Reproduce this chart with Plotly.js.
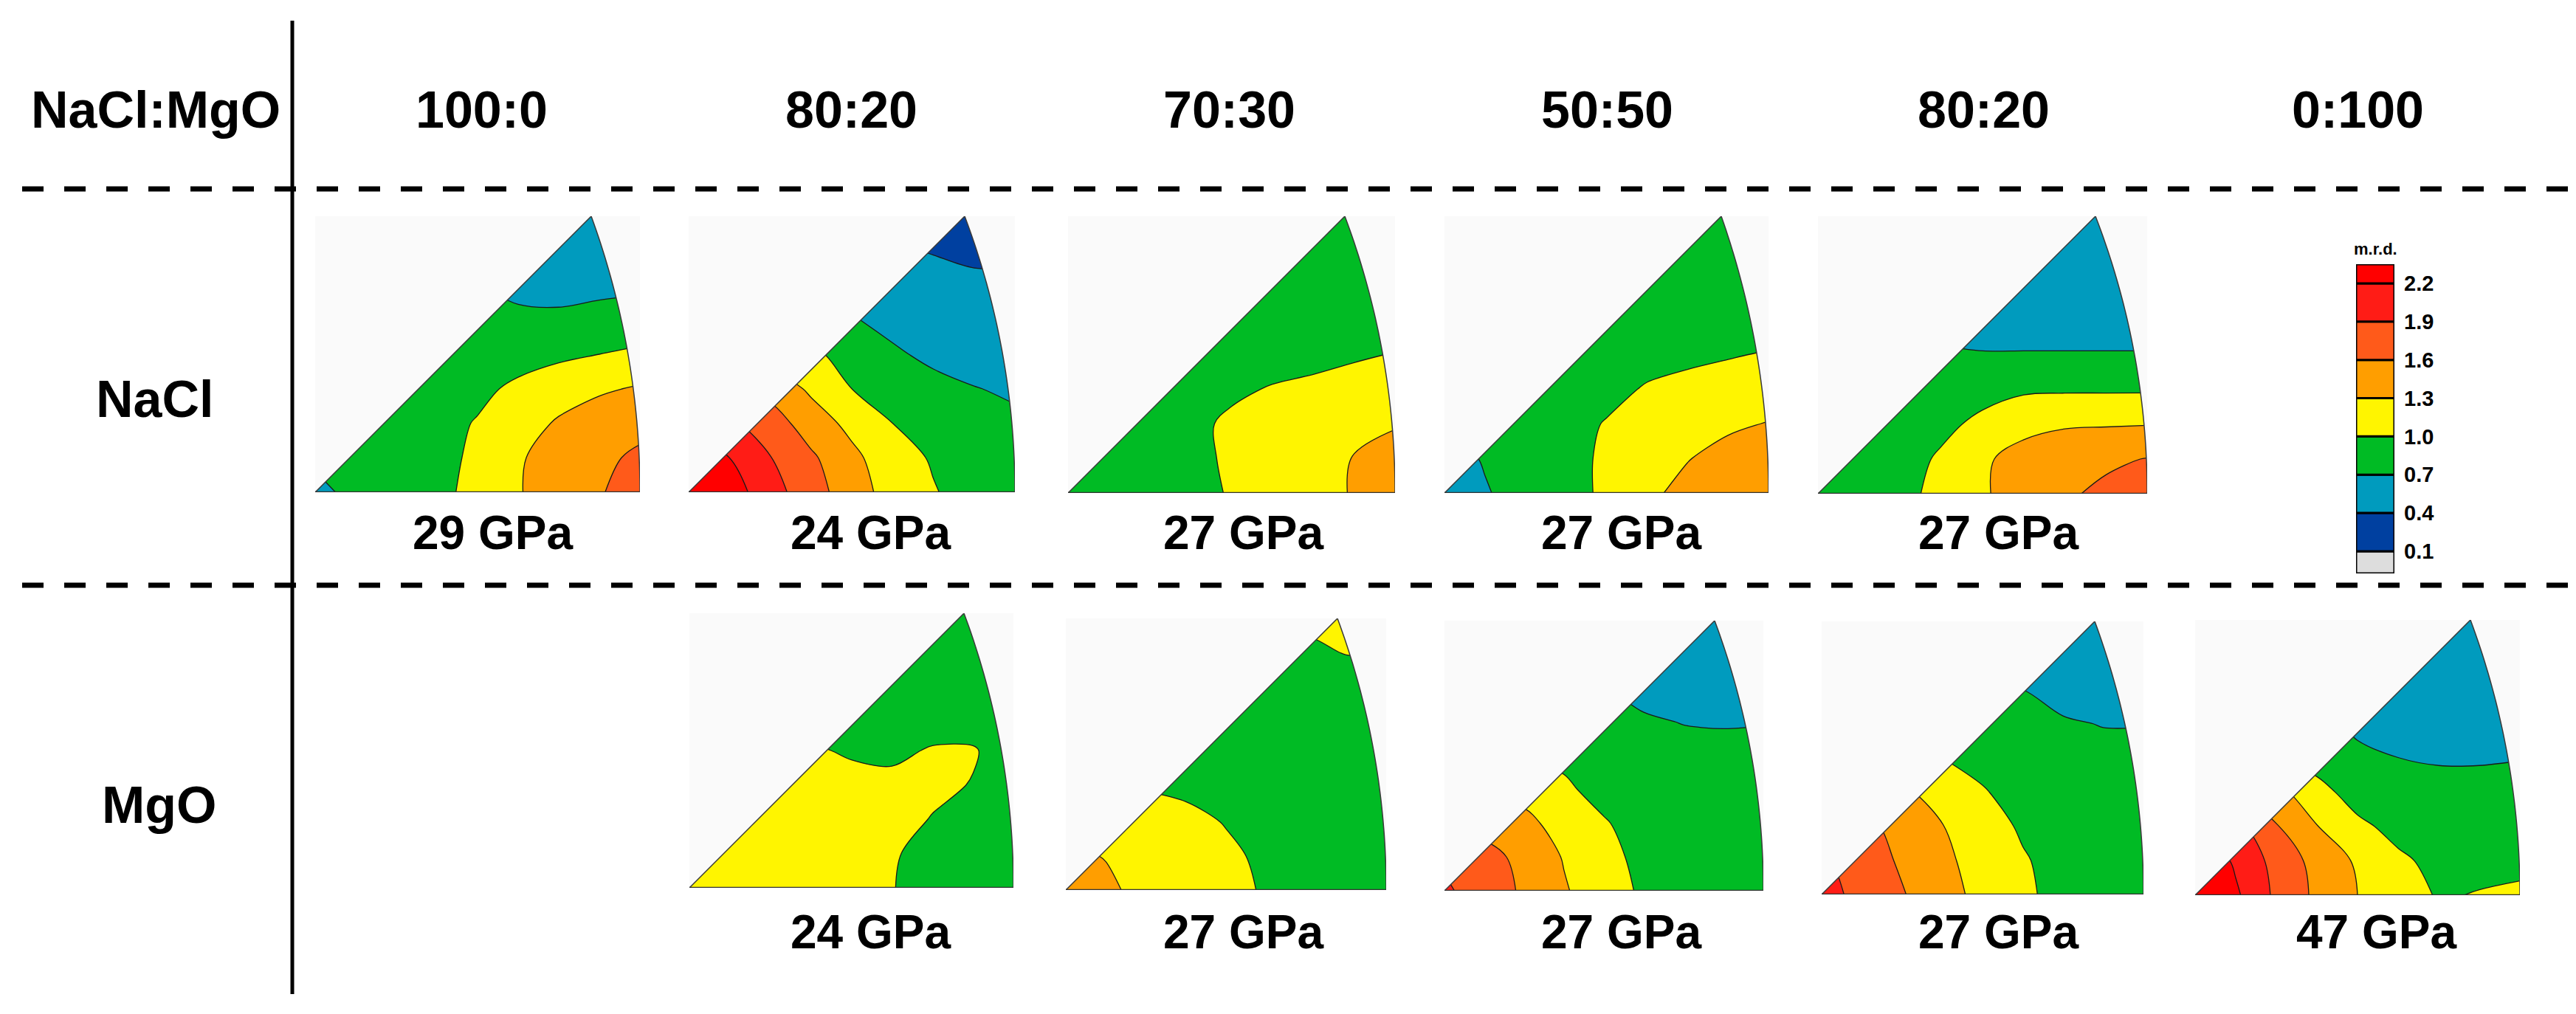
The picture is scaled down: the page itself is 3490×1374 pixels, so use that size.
<!DOCTYPE html>
<html>
<head>
<meta charset="utf-8">
<script src="https://cdn.plot.ly/plotly-3.0.1.min.js"></script>
<style>
html,body{margin:0;padding:0;background:#ffffff;}
#chart{width:3490px;height:1374px;}
</style>
</head>
<body>
<div id="chart"></div>
<script>
// ---------------- DATA ----------------
const columnLabels = ['100:0', '80:20', '70:30', '50:50', '80:20', '0:100'];
const cornerLabel = 'NaCl:MgO';
const rowLabels = ['NaCl', 'MgO'];
const pressureNaCl = ['29 GPa', '24 GPa', '27 GPa', '27 GPa', '27 GPa'];
const pressureMgO = ['24 GPa', '27 GPa', '27 GPa', '27 GPa', '47 GPa'];
const unitLabel = 'm.r.d.';

// contour levels (m.r.d.) and band colours (below first level ... above last level)
const levels = [0.1, 0.4, 0.7, 1.0, 1.3, 1.6, 1.9, 2.2];
const levelLabels = ['0.1', '0.4', '0.7', '1.0', '1.3', '1.6', '1.9', '2.2'];
const bandColors = ['#DDDDDD', '#0040A0', '#009BBE', '#00BB24', '#FFF500', '#FF9E00', '#FF5A1A', '#FF1C16', '#FF0000'];

// sample positions inside each inverse-pole-figure box (fraction of width / height)
const gridU = [0, 0.125, 0.25, 0.375, 0.5, 0.625, 0.75, 0.875, 1];
const gridV = [0, 0.125, 0.25, 0.375, 0.5, 0.625, 0.75, 0.875, 1];

// m.r.d., rows = gridV (bottom -> top), cols = gridU
const nacl_100_0 = [
  [0.62, 0.78, 0.85, 0.93, 1.08, 1.28, 1.45, 1.58, 1.72],
  [0.75, 0.80, 0.85, 0.92, 1.05, 1.27, 1.42, 1.54, 1.65],
  [0.78, 0.80, 0.83, 0.90, 1.02, 1.18, 1.33, 1.45, 1.52],
  [0.78, 0.78, 0.80, 0.85, 0.93, 1.06, 1.18, 1.26, 1.33],
  [0.77, 0.77, 0.78, 0.80, 0.83, 0.88, 0.94, 1.00, 1.06],
  [0.76, 0.76, 0.77, 0.77, 0.76, 0.74, 0.74, 0.78, 0.80],
  [0.72, 0.72, 0.72, 0.72, 0.70, 0.65, 0.63, 0.64, 0.66],
  [0.60, 0.60, 0.60, 0.60, 0.58, 0.56, 0.55, 0.55, 0.56],
  [0.50, 0.50, 0.50, 0.50, 0.50, 0.50, 0.50, 0.50, 0.50]
];
const nacl_80_20 = [
  [2.60, 2.35, 2.02, 1.73, 1.44, 1.18, 1.02, 0.88, 0.82],
  [2.50, 2.20, 1.91, 1.65, 1.37, 1.13, 0.97, 0.85, 0.80],
  [2.10, 1.95, 1.75, 1.45, 1.22, 1.00, 0.88, 0.79, 0.75],
  [1.70, 1.60, 1.50, 1.25, 1.00, 0.88, 0.78, 0.71, 0.66],
  [1.30, 1.25, 1.15, 1.05, 0.90, 0.74, 0.64, 0.58, 0.56],
  [1.00, 0.95, 0.90, 0.80, 0.72, 0.62, 0.55, 0.50, 0.50],
  [0.80, 0.75, 0.70, 0.65, 0.60, 0.52, 0.47, 0.45, 0.45],
  [0.45, 0.45, 0.45, 0.45, 0.45, 0.42, 0.39, 0.35, 0.35],
  [0.30, 0.30, 0.30, 0.30, 0.30, 0.30, 0.30, 0.30, 0.30]
];
const nacl_70_30 = [
  [0.80, 0.82, 0.86, 0.92, 1.02, 1.10, 1.20, 1.32, 1.42],
  [0.80, 0.82, 0.86, 0.93, 1.04, 1.12, 1.20, 1.31, 1.40],
  [0.80, 0.82, 0.85, 0.93, 1.05, 1.11, 1.17, 1.23, 1.28],
  [0.80, 0.82, 0.84, 0.88, 0.95, 1.02, 1.06, 1.10, 1.14],
  [0.80, 0.81, 0.82, 0.83, 0.85, 0.88, 0.92, 0.97, 1.01],
  [0.80, 0.81, 0.82, 0.83, 0.84, 0.85, 0.86, 0.86, 0.86],
  [0.82, 0.83, 0.84, 0.85, 0.85, 0.85, 0.85, 0.85, 0.85],
  [0.85, 0.85, 0.85, 0.85, 0.85, 0.85, 0.85, 0.85, 0.85],
  [0.85, 0.85, 0.85, 0.85, 0.85, 0.85, 0.85, 0.85, 0.85]
];
const nacl_50_50 = [
  [0.50, 0.68, 0.80, 0.90, 1.05, 1.25, 1.37, 1.45, 1.52],
  [0.60, 0.72, 0.81, 0.90, 1.05, 1.20, 1.29, 1.38, 1.44],
  [0.70, 0.75, 0.80, 0.88, 1.02, 1.12, 1.20, 1.26, 1.31],
  [0.75, 0.78, 0.80, 0.82, 0.90, 1.03, 1.08, 1.12, 1.16],
  [0.80, 0.80, 0.80, 0.81, 0.83, 0.88, 0.94, 0.98, 1.02],
  [0.82, 0.82, 0.82, 0.83, 0.84, 0.85, 0.85, 0.85, 0.85],
  [0.82, 0.82, 0.82, 0.82, 0.82, 0.82, 0.82, 0.82, 0.82],
  [0.80, 0.80, 0.80, 0.80, 0.80, 0.80, 0.80, 0.80, 0.80],
  [0.80, 0.80, 0.80, 0.80, 0.80, 0.80, 0.80, 0.80, 0.80]
];
const nacl_80_20b = [
  [0.72, 0.80, 0.92, 1.08, 1.27, 1.42, 1.56, 1.66, 1.73],
  [0.72, 0.78, 0.88, 1.04, 1.26, 1.40, 1.50, 1.55, 1.61],
  [0.72, 0.76, 0.82, 0.93, 1.07, 1.22, 1.27, 1.28, 1.29],
  [0.75, 0.75, 0.78, 0.85, 0.90, 0.96, 0.97, 0.97, 0.97],
  [0.75, 0.75, 0.75, 0.75, 0.72, 0.72, 0.72, 0.72, 0.72],
  [0.55, 0.55, 0.55, 0.55, 0.55, 0.55, 0.55, 0.55, 0.55],
  [0.50, 0.50, 0.50, 0.50, 0.50, 0.50, 0.50, 0.50, 0.50],
  [0.48, 0.48, 0.48, 0.48, 0.48, 0.48, 0.48, 0.48, 0.48],
  [0.45, 0.45, 0.45, 0.45, 0.45, 0.45, 0.45, 0.45, 0.45]
];
const mgo_80_20 = [
  [1.15, 1.15, 1.15, 1.12, 1.10, 1.01, 0.90, 0.85, 0.85],
  [1.15, 1.15, 1.15, 1.12, 1.10, 1.03, 0.90, 0.85, 0.85],
  [1.12, 1.12, 1.12, 1.12, 1.10, 1.08, 0.99, 0.90, 0.88],
  [1.10, 1.10, 1.10, 1.10, 1.08, 1.06, 1.05, 0.99, 0.90],
  [1.05, 1.05, 1.05, 1.03, 0.97, 0.95, 1.02, 1.02, 0.88],
  [0.95, 0.92, 0.90, 0.88, 0.88, 0.88, 0.88, 0.88, 0.88],
  [0.88, 0.88, 0.88, 0.88, 0.88, 0.88, 0.88, 0.88, 0.88],
  [0.88, 0.88, 0.88, 0.88, 0.88, 0.88, 0.88, 0.88, 0.88],
  [0.88, 0.88, 0.88, 0.88, 0.88, 0.88, 0.88, 0.88, 0.88]
];
const mgo_70_30 = [
  [1.45, 1.35, 1.22, 1.12, 1.06, 0.98, 0.90, 0.88, 0.88],
  [1.35, 1.29, 1.18, 1.10, 1.04, 0.96, 0.90, 0.88, 0.88],
  [1.20, 1.15, 1.10, 1.06, 0.99, 0.93, 0.88, 0.87, 0.87],
  [1.05, 1.02, 0.99, 0.96, 0.92, 0.89, 0.88, 0.87, 0.87],
  [0.90, 0.90, 0.89, 0.88, 0.87, 0.87, 0.87, 0.87, 0.87],
  [0.87, 0.87, 0.87, 0.87, 0.87, 0.87, 0.87, 0.87, 0.87],
  [0.87, 0.87, 0.87, 0.87, 0.87, 0.87, 0.87, 0.87, 0.87],
  [0.92, 0.92, 0.92, 0.92, 0.92, 0.93, 0.95, 1.01, 1.01],
  [1.05, 1.05, 1.05, 1.05, 1.05, 1.05, 1.05, 1.05, 1.05]
];
const mgo_50_50 = [
  [1.95, 1.75, 1.56, 1.33, 1.12, 0.96, 0.88, 0.84, 0.82],
  [1.85, 1.70, 1.52, 1.28, 1.08, 0.93, 0.86, 0.83, 0.82],
  [1.60, 1.50, 1.38, 1.18, 1.02, 0.90, 0.84, 0.82, 0.80],
  [1.30, 1.25, 1.20, 1.04, 0.92, 0.85, 0.82, 0.80, 0.79],
  [1.00, 1.00, 0.98, 0.95, 0.86, 0.82, 0.80, 0.78, 0.78],
  [0.85, 0.85, 0.85, 0.85, 0.78, 0.74, 0.69, 0.68, 0.69],
  [0.70, 0.70, 0.70, 0.70, 0.70, 0.60, 0.58, 0.57, 0.57],
  [0.52, 0.52, 0.52, 0.52, 0.52, 0.52, 0.52, 0.52, 0.52],
  [0.50, 0.50, 0.50, 0.50, 0.50, 0.50, 0.50, 0.50, 0.50]
];
const mgo_80_20b = [
  [2.00, 1.82, 1.62, 1.42, 1.21, 1.04, 0.93, 0.88, 0.86],
  [1.95, 1.75, 1.56, 1.37, 1.17, 1.02, 0.92, 0.87, 0.85],
  [1.80, 1.70, 1.48, 1.31, 1.10, 0.97, 0.89, 0.85, 0.84],
  [1.60, 1.50, 1.35, 1.18, 1.02, 0.90, 0.85, 0.82, 0.81],
  [1.30, 1.20, 1.10, 1.00, 0.92, 0.85, 0.81, 0.78, 0.78],
  [1.00, 1.00, 0.95, 0.90, 0.85, 0.78, 0.73, 0.69, 0.69],
  [0.80, 0.80, 0.80, 0.78, 0.75, 0.70, 0.60, 0.57, 0.57],
  [0.52, 0.52, 0.52, 0.52, 0.52, 0.52, 0.52, 0.52, 0.52],
  [0.50, 0.50, 0.50, 0.50, 0.50, 0.50, 0.50, 0.50, 0.50]
];
const mgo_0_100 = [
  [2.60, 2.25, 1.84, 1.54, 1.30, 1.14, 0.975, 1.015, 1.05],
  [2.50, 2.15, 1.80, 1.50, 1.26, 1.04, 0.94, 0.92, 0.93],
  [2.20, 2.00, 1.62, 1.31, 1.05, 0.93, 0.88, 0.86, 0.86],
  [1.80, 1.60, 1.40, 1.08, 0.90, 0.82, 0.80, 0.80, 0.80],
  [1.20, 1.10, 1.00, 0.90, 0.74, 0.70, 0.67, 0.67, 0.69],
  [0.90, 0.85, 0.80, 0.75, 0.66, 0.60, 0.56, 0.55, 0.56],
  [0.50, 0.50, 0.50, 0.50, 0.50, 0.50, 0.50, 0.50, 0.50],
  [0.47, 0.47, 0.47, 0.47, 0.47, 0.47, 0.47, 0.47, 0.47],
  [0.45, 0.45, 0.45, 0.45, 0.45, 0.45, 0.45, 0.45, 0.45]
];

const panelData = [nacl_100_0, nacl_80_20, nacl_70_30, nacl_50_50, nacl_80_20b,
                   mgo_80_20, mgo_70_30, mgo_50_50, mgo_80_20b, mgo_0_100];
const panelLabels = pressureNaCl.concat(pressureMgO);

// ---------------- LAYOUT (pixel positions in the 3490 x 1374 page) ----------------
const PW = 3490, PH = 1374;
const px = x => x / PW;
const py = y => 1 - y / PH;

const panelBoxes = [
  {x0: 427,  x1: 867,  top: 293, bottom: 667,  lx: 667,  ly: 722},
  {x0: 933,  x1: 1375, top: 293, bottom: 667,  lx: 1179, ly: 722},
  {x0: 1447, x1: 1890, top: 293, bottom: 668,  lx: 1684, ly: 722},
  {x0: 1957, x1: 2396, top: 293, bottom: 668,  lx: 2196, ly: 722},
  {x0: 2463, x1: 2909, top: 293, bottom: 669,  lx: 2707, ly: 722},
  {x0: 934,  x1: 1373, top: 831, bottom: 1203, lx: 1179, ly: 1263},
  {x0: 1444, x1: 1878, top: 838, bottom: 1206, lx: 1684, ly: 1263},
  {x0: 1957, x1: 2389, top: 841, bottom: 1207, lx: 2196, ly: 1263},
  {x0: 2468, x1: 2904, top: 842, bottom: 1212, lx: 2707, ly: 1263},
  {x0: 2974, x1: 3414, top: 840, bottom: 1213, lx: 3219, ly: 1263}
];
const headerX = [652, 1153, 1665, 2177, 2687, 3194];
const headerY = 149;

const FONT = 'Liberation Sans, Arial, Helvetica, sans-serif';

// step colour scale so each band gets exactly one colour
const nb = bandColors.length;
const stepScale = [];
bandColors.forEach((c, k) => {
  stepScale.push([Math.max(0, (k - 0.5) / (nb - 1)), c]);
  stepScale.push([Math.min(1, (k + 0.5) / (nb - 1)), c]);
});

const traces = [];
const layout = {
  width: PW, height: PH,
  margin: {l: 0, r: 0, t: 0, b: 0},
  paper_bgcolor: '#ffffff', plot_bgcolor: '#ffffff',
  showlegend: false,
  barmode: 'overlay',
  shapes: [], annotations: []
};

function arcPoints(W, H, n) {
  const d = W - H;
  const R = (d * d + H * H) / (2 * d);
  const cx = W - R;
  const t1 = Math.atan2(H, H - cx);
  const pts = [];
  for (let i = 0; i <= n; i++) {
    const t = t1 * (1 - i / n);
    pts.push([(cx + R * Math.cos(t)) / W, (R * Math.sin(t)) / H]);
  }
  return pts;
}
const f = v => v.toFixed(5);

panelBoxes.forEach((b, i) => {
  const n = i + 1;
  const xa = n === 1 ? 'x' : 'x' + n;
  const ya = n === 1 ? 'y' : 'y' + n;
  const xk = n === 1 ? 'xaxis' : 'xaxis' + n;
  const yk = n === 1 ? 'yaxis' : 'yaxis' + n;
  const axisBase = {showgrid: false, zeroline: false, showticklabels: false, showline: false, ticks: '', fixedrange: true};
  layout[xk] = Object.assign({}, axisBase, {domain: [px(b.x0), px(b.x1)], range: [0, 1], anchor: ya});
  layout[yk] = Object.assign({}, axisBase, {domain: [py(b.bottom), py(b.top)], range: [0, 1], anchor: xa});

  traces.push({
    type: 'contour', x: gridU, y: gridV, z: panelData[i],
    xaxis: xa, yaxis: ya,
    autocontour: false,
    contours: {start: levels[0], end: levels[levels.length - 1], size: levels[1] - levels[0], coloring: 'fill', showlines: true},
    colorscale: stepScale, showscale: false,
    line: {color: '#1a1a1a', width: 1.3, smoothing: 1},
    hoverinfo: 'skip'
  });

  const W = b.x1 - b.x0, H = b.bottom - b.top;
  const arc = arcPoints(W, H, 40);
  const arcStr = arc.map(p => 'L' + f(p[0]) + ',' + f(p[1])).join(' ');
  // mask everything outside the stereographic triangle
  layout.shapes.push({
    type: 'path', xref: xa, yref: ya, layer: 'above',
    path: 'M0,0 L1,0 L1,1 L0,1 Z M0,0 ' + arcStr + ' Z',
    fillrule: 'evenodd', fillcolor: '#FAFAFA', line: {width: 0}
  });
  // triangle edges
  layout.shapes.push({
    type: 'path', xref: xa, yref: ya, layer: 'above',
    path: 'M0,0 ' + arcStr,
    fillcolor: 'rgba(0,0,0,0)', line: {color: '#3a3a3a', width: 1.5}
  });
  layout.shapes.push({
    type: 'line', xref: xa, yref: ya, layer: 'above',
    x0: 0, y0: 0, x1: 1, y1: 0,
    line: {color: '#333333', width: 2.5}
  });
  layout.annotations.push({
    xref: 'paper', yref: 'paper', x: px(b.lx), y: py(b.ly),
    xanchor: 'center', yanchor: 'middle', showarrow: false,
    text: panelLabels[i],
    font: {family: FONT, size: 64, color: '#000', weight: 'bold'}
  });
});

// ---- colour bar built from the level list ----
const cbLow = levels[0] - 0.174, cbHigh = levels[levels.length - 1] + 0.150;
const cbBase = bandColors.map((c, k) => k === 0 ? cbLow : levels[k - 1]);
const cbLen = bandColors.map((c, k) => (k === nb - 1 ? cbHigh : levels[k]) - cbBase[k]);
traces.push({
  type: 'bar', x: bandColors.map(() => 0), base: cbBase, y: cbLen, width: 1,
  marker: {color: bandColors, line: {color: '#000', width: 3}},
  xaxis: 'x11', yaxis: 'y11', hoverinfo: 'skip', cliponaxis: false
});
layout.xaxis11 = {domain: [px(3192), px(3244)], range: [-0.5, 0.5], visible: false, fixedrange: true, anchor: 'y11'};
layout.yaxis11 = {
  domain: [py(777), py(358)], range: [cbLow, cbHigh], anchor: 'x11', side: 'right',
  showgrid: false, zeroline: false, showline: false, ticks: '',
  tickvals: levels, ticktext: levelLabels, ticklabelstandoff: 12,
  tickfont: {family: FONT, size: 29, color: '#000', weight: 'bold'}, fixedrange: true
};
layout.annotations.push({
  xref: 'paper', yref: 'paper', x: px(3218), y: py(337), xanchor: 'center', yanchor: 'middle',
  showarrow: false, text: unitLabel, font: {family: FONT, size: 22, color: '#000', weight: 'bold'}
});

// ---- headers and row labels ----
layout.annotations.push({
  xref: 'paper', yref: 'paper', x: px(211), y: py(headerY), xanchor: 'center', yanchor: 'middle',
  showarrow: false, text: cornerLabel, font: {family: FONT, size: 70, color: '#000', weight: 'bold'}
});
columnLabels.forEach((t, k) => {
  layout.annotations.push({
    xref: 'paper', yref: 'paper', x: px(headerX[k]), y: py(headerY), xanchor: 'center', yanchor: 'middle',
    showarrow: false, text: t, font: {family: FONT, size: 70, color: '#000', weight: 'bold'}
  });
});
const rowY = [541, 1091], rowX = [209, 216];
rowLabels.forEach((t, k) => {
  layout.annotations.push({
    xref: 'paper', yref: 'paper', x: px(rowX[k]), y: py(rowY[k]), xanchor: 'center', yanchor: 'middle',
    showarrow: false, text: t, font: {family: FONT, size: 70, color: '#000', weight: 'bold'}
  });
});

// ---- separators ----
layout.shapes.push({type: 'line', xref: 'paper', yref: 'paper', x0: px(396), x1: px(396), y0: py(28), y1: py(1347), line: {color: '#000', width: 5}});
[256, 793].forEach(y => {
  layout.shapes.push({type: 'line', xref: 'paper', yref: 'paper', x0: px(30), x1: 1, y0: py(y), y1: py(y), line: {color: '#000', width: 7, dash: '29px,28px'}});
});

Plotly.newPlot('chart', traces, layout, {staticPlot: true, displayModeBar: false});
</script>
</body>
</html>
